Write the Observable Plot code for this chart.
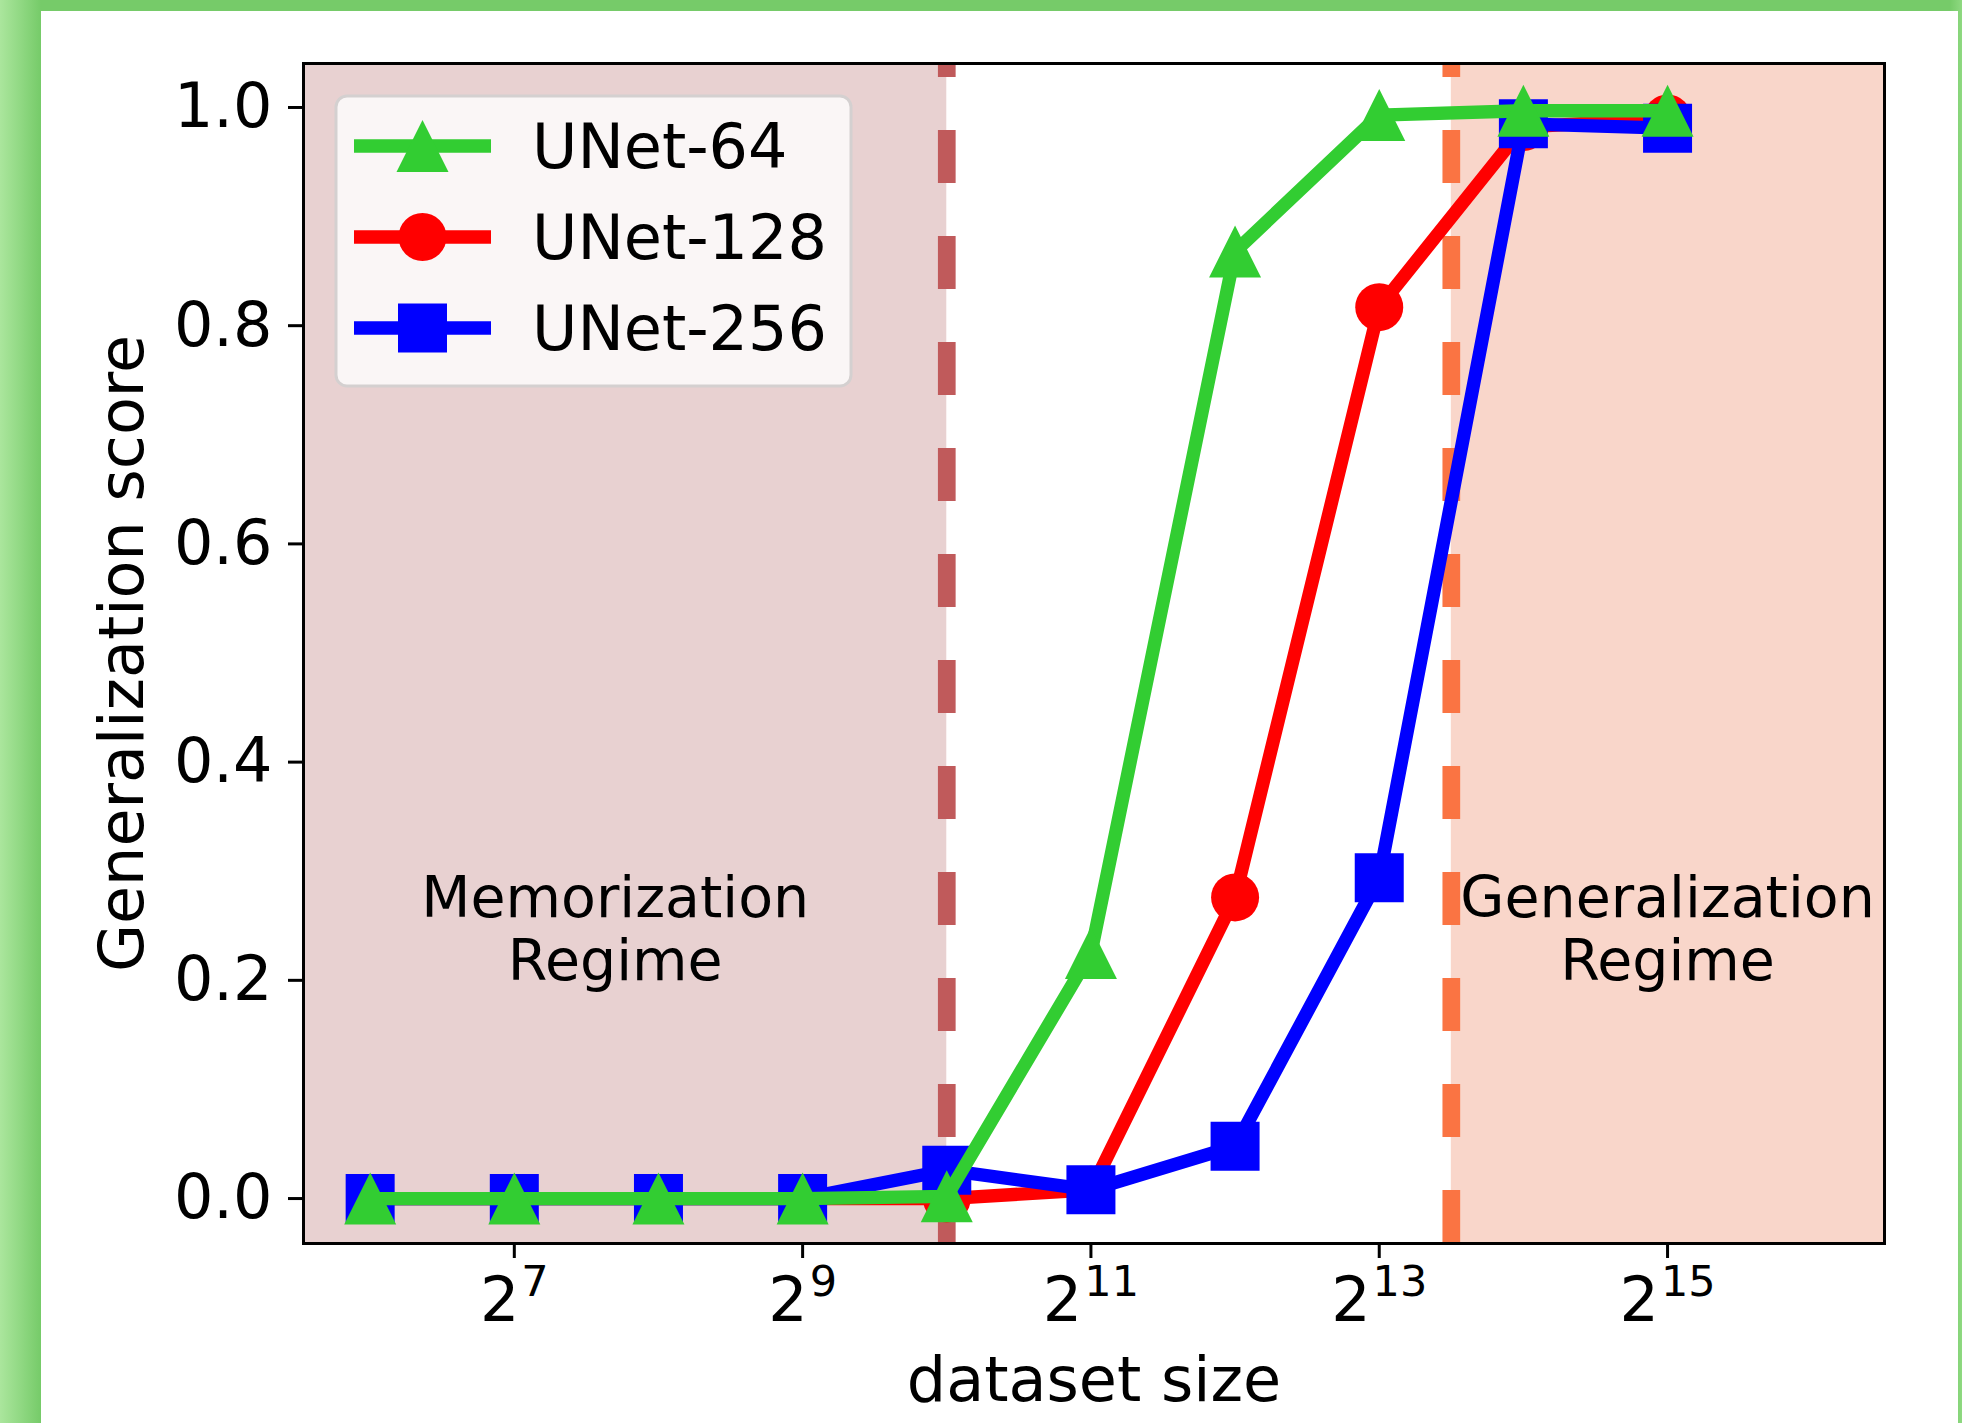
<!DOCTYPE html>
<html>
<head>
<meta charset="utf-8">
<script src="https://cdn.jsdelivr.net/npm/d3@7"></script>
<script src="https://cdn.jsdelivr.net/npm/@observablehq/plot@0.6"></script>
<style>
  html, body { margin: 0; padding: 0; }
  body {
    width: 1962px; height: 1423px; position: relative; overflow: hidden;
    background: linear-gradient(to right, #abe69d 0px, #76cb69 41px, #76cb69 1950px, #8fd981 1962px);
    font-family: "DejaVu Sans", sans-serif;
  }
  #card { position: absolute; left: 41px; top: 11px; width: 1917px; height: 1412px; background: #ffffff; }
  #chart { position: absolute; left: 0; top: 0; }
  #legend { position: absolute; left: 0; top: 0; pointer-events: none; }
</style>
</head>
<body>
<div id="card"></div>
<div id="chart"></div>
<svg id="legend" width="1962" height="1423"></svg>
<script>
// ---- data ----
const datasetSize = [64, 128, 256, 512, 1024, 2048, 4096, 8192, 16384, 32768];
const seriesNames = ["UNet-64", "UNet-128", "UNet-256"];
const unet64  = [0, 0, 0, 0, 0.002, 0.225, 0.868, 0.993, 0.997, 0.997];
const unet128 = [0, 0, 0, 0, 0.0,   0.008, 0.276, 0.817, 0.982, 0.990];
const unet256 = [0, 0, 0, 0, 0.026, 0.008, 0.048, 0.294, 0.985, 0.981];
const seriesColors = ["#32cd32", "#ff0000", "#0000ff"];
const yTicks = [0, 0.2, 0.4, 0.6, 0.8, 1.0];
const xTickExponents = [7, 9, 11, 13, 15];
const regimeLabels = ["Memorization\nRegime", "Generalization\nRegime"];
const regimeLabelX = [2 ** 7.7, 2 ** 15];
const regimeLabelY = [0.25, 0.25];
const memorizationEnd = 2 ** 10;
const generalizationStart = 2 ** 13.5;
const xDomain = [2 ** 5.5376, 2 ** 16.505];
const yDomain = [-0.0412, 1.0403];
const xLabel = "dataset size";
const yLabel = "Generalization score";

// ---- build tables ----
const seriesValues = [unet64, unet128, unet256];
const rows = [];
seriesNames.forEach((name, k) => seriesValues[k].forEach((v, i) => rows.push({size: datasetSize[i], score: v, series: name})));
const drawOrder = [1, 2, 0]; // red under blue under green

const triangleSym = {draw(ctx, size) { const r = Math.sqrt(size / Math.PI); ctx.moveTo(0, -r); ctx.lineTo(r, r); ctx.lineTo(-r, r); ctx.closePath(); }};
const squareSym = {draw(ctx, size) { const r = Math.sqrt(size / Math.PI); ctx.rect(-r, -r, 2 * r, 2 * r); }};
const symbols = [triangleSym, "circle", squareSym];
const markerR = [26, 24, 24.5];

const spans = [
  {x1: xDomain[0], x2: memorizationEnd, fill: "#e8d1d1"},
  {x1: generalizationStart, x2: xDomain[1], fill: "#f9d6ca"}
];
const boundaries = [
  {x: memorizationEnd, stroke: "#c05a5b"},
  {x: generalizationStart, stroke: "#fa7443"}
];
const annotations = regimeLabels.map((t, i) => ({x: regimeLabelX[i], y: regimeLabelY[i], text: t}));

const seriesMarks = [];
for (const k of drawOrder) {
  const data = rows.filter(d => d.series === seriesNames[k]);
  seriesMarks.push(Plot.line(data, {x: "size", y: "score", stroke: seriesColors[k], strokeWidth: 13.3, strokeLinejoin: "round", strokeLinecap: "square"}));
  seriesMarks.push(Plot.dot(data, {x: "size", y: "score", fill: seriesColors[k], stroke: "none", r: markerR[k], symbol: symbols[k]}));
}

const svg = Plot.plot({
  width: 1962,
  height: 1423,
  marginLeft: 303,
  marginRight: 78,
  marginTop: 63,
  marginBottom: 180,
  style: {background: "transparent", fontFamily: "DejaVu Sans", fontSize: "62px", color: "black"},
  x: {type: "log", base: 2, domain: xDomain},
  y: {domain: yDomain},
  marks: [
    Plot.rect(spans, {x1: "x1", x2: "x2", y1: () => yDomain[0], y2: () => yDomain[1], fill: "fill"}),
    Plot.ruleX(boundaries, {x: "x", y1: () => yDomain[0], y2: () => yDomain[1], stroke: "stroke", strokeWidth: 17.7, strokeDasharray: "53,53"}),
    ...seriesMarks,
    Plot.text(annotations, {x: "x", y: "y", text: "text", fontSize: 57, lineHeight: 1.1, lineAnchor: "middle", textAnchor: "middle", dy: 3, fill: "black"}),
    Plot.axisY({ticks: yTicks, tickSize: 15, tickPadding: 16, strokeWidth: 3, tickFormat: d3.format(".1f"), label: null}),
    Plot.axisX({ticks: xTickExponents.map(e => 2 ** e), tickSize: 15, tickPadding: 18, strokeWidth: 3, tickFormat: d => `2^${Math.round(Math.log2(d))}`, label: null}),
    Plot.frame({stroke: "black", strokeWidth: 3}),
    Plot.text([yLabel], {text: d => d, frameAnchor: "left", dx: -161, rotate: -90, lineAnchor: "bottom", textAnchor: "middle", fontSize: 62}),
    Plot.text([xLabel], {text: d => d, frameAnchor: "bottom", dy: 157, lineAnchor: "bottom", textAnchor: "middle", fontSize: 62})
  ]
});
document.getElementById("chart").appendChild(svg);

// superscript exponents on x tick labels
d3.select(svg).selectAll('g[aria-label="x-axis tick label"] text').each(function () {
  const parts = this.textContent.split("^");
  if (parts.length !== 2) return;
  this.textContent = parts[0];
  const ts = document.createElementNS("http://www.w3.org/2000/svg", "tspan");
  ts.setAttribute("dy", "-25");
  ts.setAttribute("dx", "2");
  ts.setAttribute("font-size", "43");
  ts.textContent = parts[1];
  this.appendChild(ts);
});

// ---- legend ----
const lg = d3.select("#legend");
lg.append("rect").attr("x", 336).attr("y", 96).attr("width", 515).attr("height", 290).attr("rx", 11)
  .attr("fill", "#faf6f6").attr("stroke", "#d4d0d0").attr("stroke-width", 3);
const rowY = [146, 237, 328];
seriesNames.forEach((name, k) => {
  const y = rowY[k];
  const g = lg.append("g");
  g.append("line").attr("x1", 354).attr("x2", 491).attr("y1", y).attr("y2", y)
    .attr("stroke", seriesColors[k]).attr("stroke-width", 13.3);
  const cx = 422.5, r = markerR[k];
  if (k === 0) g.append("path").attr("d", `M${cx},${y - r}L${cx + r},${y + r}L${cx - r},${y + r}Z`).attr("fill", seriesColors[k]);
  else if (k === 1) g.append("circle").attr("cx", cx).attr("cy", y).attr("r", r).attr("fill", seriesColors[k]);
  else g.append("rect").attr("x", cx - r).attr("y", y - r).attr("width", 2 * r).attr("height", 2 * r).attr("fill", seriesColors[k]);
  g.append("text").attr("x", 532).attr("y", y + 22).attr("font-family", "DejaVu Sans").attr("font-size", 62).attr("fill", "black").text(name);
});
</script>
</body>
</html>
